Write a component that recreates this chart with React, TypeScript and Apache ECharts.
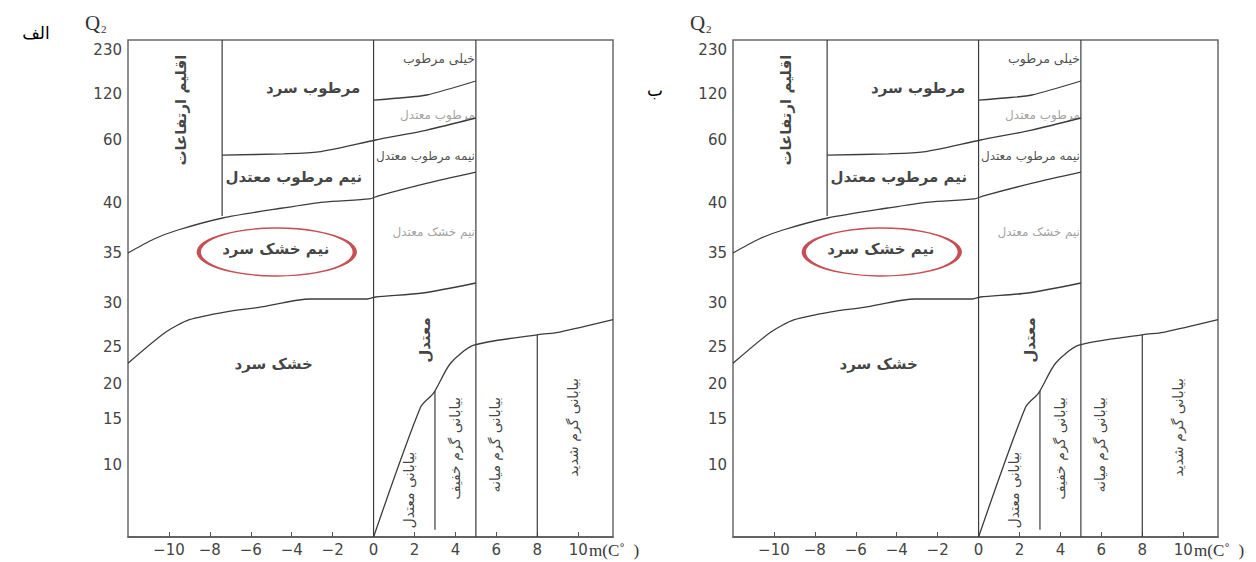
import React, { useEffect, useRef } from "react";
import * as echarts from "echarts";

// ---- Axis definitions ----
const Q2_TICKS = [10, 15, 20, 25, 30, 35, 40, 60, 120, 230];
// positions of the Q2 ticks on the (non-linear) vertical scale, in scale units from the bottom
const Q2_TICK_POS = [72, 118, 153, 190, 234, 284, 334, 397, 443, 487];
const Q2_MAX = 255;
const X_TICKS = [-10, -8, -6, -4, -2, 0, 2, 4, 6, 8, 10];
const X_MIN = -12;
const X_MAX = 11.7;

// ---- Boundary curves (m in °C, Q2) ----
const dryX = [-12, -10.15, -9.0, -7.2, -5.6, -3.1, -0.3, 0.1, 2.4, 5];
const dryQ = [22.8, 26.7, 28.1, 29.0, 29.5, 30.4, 30.4, 30.6, 31.0, 32.0];

const semiAridX = [-12, -10.73, -9.56, -7.37, -4.44, -2.44, -0.2, 0.2, 2.63, 5];
const semiAridQ = [35.0, 36.4, 37.3, 38.5, 39.5, 40.3, 41.3, 42.2, 46.3, 49.8];

const subHumidX = [-7.4, -4.4, -2.7, 0.1, 2.6, 5];
const subHumidQ = [55.2, 55.6, 56.2, 60, 73, 88.7];

const humidX = [0, 1.3, 2.6, 5];
const humidQ = [112, 114.8, 118.7, 152.5];

const desertX = [0, 2.3, 2.93, 3.76, 4.9, 8.05, 9.1, 11.7];
const desertQ = [0, 16.7, 18.7, 22.8, 25.2, 26.4, 26.7, 28.1];

// vertical divisions: [x, Q2 from, Q2 to]
const verticalX = [-7.4, 0, 5, 3, 8];
const verticalFrom = [38.7, 0, 0, 1, 0];
const verticalTo = [Q2_MAX, Q2_MAX, Q2_MAX, 19, 26.4];

// ---- Zone labels ----
const zoneText = [
  "اقلیم ارتفاعات",
  "مرطوب سرد",
  "نیم مرطوب معتدل",
  "نیم خشک سرد",
  "خشک سرد",
  "معتدل",
  "بیابانی معتدل",
  "بیابانی گرم خفیف",
  "بیابانی گرم میانه",
  "بیابانی گرم شدید",
];
const zoneX = [-9.41, -2.95, -3.9, -4.78, -4.88, 2.5, 1.75, 4.0, 5.95, 9.76];
const zoneQ = [99, 135, 48.3, 35.4, 22.7, 25.8, 6.5, 11.8, 12.2, 14.1];
const zoneVertical = [true, false, false, false, false, true, true, true, true, true];
const zoneBold = [true, true, true, true, true, true, false, false, false, false];

// small labels right-aligned against the m = 5 line
const sideText = ["خیلی مرطوب", "مرطوب معتدل", "نیمه مرطوب معتدل", "نیم خشک معتدل"];
const sideQ = [210, 92.6, 54.9, 37.1];
const sideGray = [false, true, false, true];

// highlighted zone (red ellipse)
const highlightX = -4.73;
const highlightQ = 35.1;

const PANEL_TAGS = ["الف", "ب"];

function q2Pos(q: number): number {
  const qs = [0, ...Q2_TICKS];
  const ps = [0, ...Q2_TICK_POS];
  for (let i = 1; i < qs.length; i++) {
    if (q <= qs[i]) {
      return ps[i - 1] + ((q - qs[i - 1]) / (qs[i] - qs[i - 1])) * (ps[i] - ps[i - 1]);
    }
  }
  const n = qs.length - 1;
  return ps[n] + ((q - qs[n]) / (qs[n] - qs[n - 1])) * (ps[n] - ps[n - 1]);
}

const AXIS_FONT = "DejaVu Sans";
const FA_FONT = "DejaVu Sans";
const LINE_COLOR = "#3c3c3c";

export default function App() {
  const ref = useRef<HTMLDivElement>(null);

  useEffect(() => {
    document.body.style.margin = "0";
    if (!ref.current) return;
    const chart = echarts.init(ref.current, undefined, { renderer: "svg" });

    const panelOffset = 605;
    const grids: any[] = [];
    const xAxes: any[] = [];
    const yAxes: any[] = [];
    const series: any[] = [];
    const graphic: any[] = [];

    const curves = [
      [dryX, dryQ],
      [semiAridX, semiAridQ],
      [subHumidX, subHumidQ],
      [humidX, humidQ],
      [desertX, desertQ],
    ];

    for (let p = 0; p < 2; p++) {
      const left = 128 + panelOffset * p;
      grids.push({
        left,
        top: 40,
        width: 485,
        height: 497,
        show: true,
        borderColor: "#6a6a6a",
        borderWidth: 1.5,
        backgroundColor: "transparent",
      });
      xAxes.push({
        gridIndex: p,
        type: "value",
        min: X_MIN,
        max: X_MAX,
        axisLine: { show: true, onZero: false, lineStyle: { color: "#555", width: 1.5 } },
        axisTick: {
          show: true,
          inside: true,
          length: 5,
          customValues: X_TICKS,
          lineStyle: { color: "#555" },
        },
        axisLabel: {
          customValues: X_TICKS,
          margin: 5,
          fontFamily: AXIS_FONT,
          fontSize: 15,
          color: "#444",
          formatter: (v: number) => (v < 0 ? "\u2212" + Math.abs(v) : String(v)),
        },
        splitLine: { show: false },
      });
      yAxes.push({
        gridIndex: p,
        type: "value",
        min: 0,
        max: q2Pos(Q2_MAX),
        axisLine: { show: false },
        axisTick: { show: false },
        axisLabel: {
          customValues: Q2_TICK_POS,
          margin: 6,
          fontFamily: AXIS_FONT,
          fontSize: 15,
          color: "#444",
          formatter: (v: number) => {
            const i = Q2_TICK_POS.findIndex((t) => Math.abs(t - v) < 0.01);
            return i >= 0 ? String(Q2_TICKS[i]) : "";
          },
        },
        splitLine: { show: false },
      });

      curves.forEach(([xs, qs]) => {
        series.push({
          type: "line",
          xAxisIndex: p,
          yAxisIndex: p,
          data: xs.map((x, i) => [x, q2Pos(qs[i])]),
          showSymbol: false,
          smooth: 0.25,
          lineStyle: { color: LINE_COLOR, width: 1.3 },
          silent: true,
        });
      });
      verticalX.forEach((x, i) => {
        series.push({
          type: "line",
          xAxisIndex: p,
          yAxisIndex: p,
          data: [
            [x, q2Pos(verticalFrom[i])],
            [x, q2Pos(verticalTo[i])],
          ],
          showSymbol: false,
          lineStyle: { color: LINE_COLOR, width: 1.2 },
          silent: true,
        });
      });

      // zone labels
      series.push({
        type: "scatter",
        xAxisIndex: p,
        yAxisIndex: p,
        symbolSize: 0,
        silent: true,
        data: zoneText.map((t, i) => ({
          value: [zoneX[i], q2Pos(zoneQ[i])],
          label: {
            show: true,
            position: "inside",
            formatter: t,
            rotate: zoneVertical[i] ? 90 : 0,
            fontFamily: FA_FONT,
            fontWeight: zoneBold[i] ? "bold" : "normal",
            fontSize: zoneBold[i] ? 15 : 14,
            color: "#111",
          },
        })),
      });
      // side labels
      series.push({
        type: "scatter",
        xAxisIndex: p,
        yAxisIndex: p,
        symbolSize: 0,
        silent: true,
        data: sideText.map((t, i) => ({
          value: [5, q2Pos(sideQ[i])],
          label: {
            show: true,
            position: "left",
            distance: 1,
            formatter: t,
            fontFamily: FA_FONT,
            fontSize: i === 0 ? 12.5 : 12,
            color: sideGray[i] ? "#8a8a8a" : "#222",
          },
        })),
      });
      // red ellipse
      series.push({
        type: "scatter",
        xAxisIndex: p,
        yAxisIndex: p,
        symbol: "circle",
        symbolSize: [156, 48],
        silent: true,
        itemStyle: { color: "rgba(0,0,0,0)", borderColor: "#b8232a", borderWidth: 2.4 },
        data: [[highlightX, q2Pos(highlightQ)]],
        z: 3,
      });

      // Q2 title
      graphic.push({
        type: "text",
        x: 85 + panelOffset * p,
        y: 23,
        style: {
          text: "Q",
          font: "21px 'Liberation Serif'",
          fill: "#333",
          verticalAlign: "middle",
        },
      });
      graphic.push({
        type: "text",
        x: 101 + panelOffset * p,
        y: 29,
        style: {
          text: "2",
          font: "11px 'Liberation Serif'",
          fill: "#333",
          verticalAlign: "middle",
        },
      });
      // unit after 10
      graphic.push({
        type: "text",
        x: 589 + panelOffset * p,
        y: 550,
        style: {
          text: "m(C\u02da  )",
          font: "17px 'Liberation Serif'",
          fill: "#333",
          verticalAlign: "middle",
        },
      });
    }

    graphic.push({
      type: "text",
      x: 36,
      y: 33,
      style: { text: PANEL_TAGS[0], font: "17px 'DejaVu Sans'", fill: "#000", align: "center", verticalAlign: "middle" },
    });
    graphic.push({
      type: "text",
      x: 655,
      y: 90,
      style: { text: PANEL_TAGS[1], font: "17px 'DejaVu Sans'", fill: "#000", align: "center", verticalAlign: "middle" },
    });

    chart.setOption({
      animation: false,
      backgroundColor: "#ffffff",
      grid: grids,
      xAxis: xAxes,
      yAxis: yAxes,
      series,
      graphic,
    });

    return () => chart.dispose();
  }, []);

  return <div ref={ref} style={{ width: 1256, height: 562 }} />;
}
